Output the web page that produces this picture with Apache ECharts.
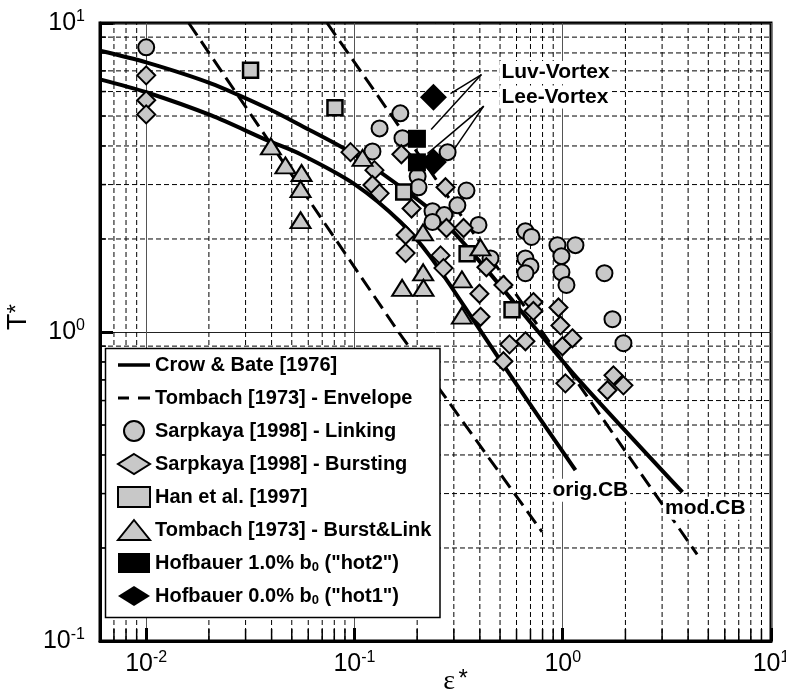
<!DOCTYPE html>
<html><head><meta charset="utf-8">
<script src="https://cdn.jsdelivr.net/npm/echarts@6/dist/echarts.min.js"></script>
<style>html,body{margin:0;padding:0;background:#fff}#c{width:786px;height:700px}</style>
</head><body><div id="c"></div>
<script>
// ---- axis ranges and grid/tick values ----
const xMin = 0.006, xMax = 10, yMin = 0.1, yMax = 10;
const minorX = [0.007,0.008,0.009,0.02,0.03,0.04,0.05,0.06,0.07,0.08,0.09,0.2,0.3,0.4,0.5,0.6,0.7,0.8,0.9,2,3,4,5,6,7,8,9];
const minorY = [0.2,0.3,0.4,0.5,0.6,0.7,0.8,0.9,2,3,4,5,6,7,8,9];

// ---- curves ----
const crowBateOrig = [[0.006,6.57],[0.01,5.97],[0.0204,5.03],[0.0382,4.17],[0.0551,3.76],[0.1,3.01],[0.1663,2.27],[0.2317,1.75],[0.4026,1.01],[0.58,0.70],[1.151,0.357]];
const crowBateMod = [[0.006,8.13],[0.01,7.46],[0.0204,6.38],[0.0382,5.30],[0.0551,4.67],[0.0957,3.82],[0.1663,2.95],[0.2588,2.33],[0.4026,1.68],[0.756,1.01],[1.176,0.708],[3.756,0.303]];
const tombachEnvLeft = [[0.016,10],[0.1627,1],[0.796,0.2253]];
const tombachEnvRight = [[0.0739,10],[4.418,0.1908]];

// ---- scatter data ----
const sarpkayaLinking = [[0.01,8.34],[0.166,5.10],[0.132,4.56],[0.170,4.24],[0.122,3.84],[0.280,3.82],[0.201,3.19],[0.203,2.94],[0.345,2.87],[0.312,2.57],[0.237,2.46],[0.270,2.39],[0.237,2.27],[0.394,2.22],[0.662,2.12],[0.708,2.03],[0.943,1.91],[1.151,1.91],[0.450,1.73],[0.662,1.73],[0.700,1.63],[0.662,1.55],[0.986,1.76],[0.986,1.56],[1.042,1.42],[1.586,1.55],[1.733,1.10],[1.956,0.92]];
const sarpkayaBursting = [[0.01,6.77],[0.01,5.62],[0.01,5.06],[0.0957,3.82],[0.1247,3.34],[0.122,2.99],[0.132,2.81],[0.168,3.76],[0.2735,2.94],[0.188,2.51],[0.176,2.06],[0.176,1.80],[0.2765,2.17],[0.334,2.17],[0.259,1.77],[0.2675,1.61],[0.430,1.62],[0.519,1.42],[0.398,1.33],[0.403,1.12],[0.723,1.25],[0.723,1.17],[0.954,1.20],[0.975,1.05],[0.555,0.912],[0.662,0.933],[0.519,0.804],[0.997,0.899],[1.113,0.954],[1.03,0.682],[1.752,0.724],[1.639,0.648],[1.956,0.672]];
const hanEtAl = [[0.0317,7.03],[0.0806,5.32],[0.1724,2.84],[0.3475,1.79],[0.571,1.18]];
const tombachBurstLink = [[0.0397,3.99],[0.0466,3.46],[0.0557,3.27],[0.0551,2.90],[0.0551,2.30],[0.1093,3.66],[0.2133,2.10],[0.2137,1.56],[0.1694,1.39],[0.2145,1.39],[0.328,1.48],[0.328,1.13],[0.4026,1.88]];
const hofbauerHot2 = [[0.1995,4.22],[0.1995,3.54]];
const hofbauerHot1 = [[0.2394,5.75],[0.2394,3.55]];

// ---- annotations ----
const annotationTexts = ['Luv-Vortex','Lee-Vortex','orig.CB','mod.CB'];
const annotationX = [0.4967,0.4967,0.873,3.034];
const annotationY = [6.91,5.76,0.3074,0.2689];
const leaderLines = [
  [[0.4071,6.81],[0.289,5.91]],
  [[0.4071,6.81],[0.2334,4.52]],
  [[0.4175,5.38],[0.2241,3.78]],
  [[0.4175,5.38],[0.2836,3.68]]
];

const names = {
  cb: 'Crow & Bate [1976]',
  te: 'Tombach [1973] - Envelope',
  sl: 'Sarpkaya [1998] - Linking',
  sb: 'Sarpkaya [1998] - Bursting',
  han: 'Han et al. [1997]',
  tbl: 'Tombach [1973] - Burst&Link',
  h2: 'Hofbauer 1.0% b0 ("hot2")',
  h1: 'Hofbauer 0.0% b0 ("hot1")'
};

const FONT = '"Liberation Sans", Arial, Helvetica, sans-serif';
const grayFill = '#c8c8c8';

function powLabel(v) {
  const e = Math.log10(v);
  if (Math.abs(e - Math.round(e)) > 1e-6) return '';
  return '{b|10}{s|' + Math.round(e) + '}';
}
const labelRich = {
  b: {fontSize: 25, fontFamily: FONT, color: '#000', lineHeight: 28},
  s: {fontSize: 16, fontFamily: FONT, color: '#000', verticalAlign: 'top', lineHeight: 16}
};

const chart = echarts.init(document.getElementById('c'), null, {renderer: 'canvas'});

const gridLineStyle = {stroke: '#000', lineWidth: 1, lineDash: [5, 3]};

const option = {
  animation: false,
  backgroundColor: '#fff',
  grid: {left: 100, right: 15, top: 23, bottom: 59, containLabel: false, outerBoundsMode: 'none',
    show: true, borderColor: '#000', borderWidth: 3, backgroundColor: 'transparent'},
  xAxis: {
    type: 'log', logBase: 10, min: xMin, max: xMax,
    axisLine: {show: true, lineStyle: {color: '#000', width: 3}},
    axisTick: {show: true, inside: true, length: 13, lineStyle: {color: '#000', width: 3}},
    splitLine: {show: true, lineStyle: {color: '#555', width: 1}},
    axisLabel: {formatter: powLabel, rich: labelRich, margin: 9, showMinLabel: true, showMaxLabel: true, hideOverlap: false},
    name: '{e|ε} {s|*}', nameLocation: 'middle', nameGap: 26, nameMoveOverlap: false,
    nameTextStyle: {padding: [0, 0, 0, 40], rich: {
      e: {fontSize: 28, fontFamily: '"Liberation Serif", "DejaVu Serif", serif', color: '#000', lineHeight: 30},
      s: {fontSize: 24, fontFamily: FONT, color: '#000', verticalAlign: 'top', lineHeight: 20}
    }}
  },
  yAxis: {
    type: 'log', logBase: 10, min: yMin, max: yMax,
    axisLine: {show: true, lineStyle: {color: '#000', width: 3}},
    axisTick: {show: true, inside: true, length: 13, lineStyle: {color: '#000', width: 3}},
    splitLine: {show: true, lineStyle: {color: '#222', width: 1}},
    axisLabel: {formatter: powLabel, rich: labelRich, margin: 15, hideOverlap: false},
    name: '{t|T}{s|*}', nameLocation: 'middle', nameGap: 67, nameRotate: 90, nameMoveOverlap: false,
    nameTextStyle: {padding: [0, 0, 0, 30], rich: {
      t: {fontSize: 27, fontFamily: FONT, color: '#000', lineHeight: 28},
      s: {fontSize: 24, fontFamily: FONT, color: '#000', verticalAlign: 'top', lineHeight: 18}
    }}
  },
  legend: {
    orient: 'vertical', left: 117, top: 354, z: 12,
    itemWidth: 32, itemHeight: 20, itemGap: 11, padding: 0,
    selectedMode: false,
    data: [
      {name: names.cb, icon: 'path://M0,0H32V3.5H0Z'},
      {name: names.te, icon: 'path://M0,0H11V3H0Z M20,0H32V3H20Z'},
      names.sl, names.sb, names.han, names.tbl, names.h2, names.h1],
    formatter: function (n) { return n.replace(' b0 ', ' b{sub|0} '); },
    textStyle: {fontFamily: FONT, fontWeight: 'bold', fontSize: 20, color: '#000', lineHeight: 22,
      rich: {sub: {fontFamily: FONT, fontWeight: 'bold', fontSize: 13, color: '#000', verticalAlign: 'bottom', lineHeight: 12}}}
  },
  graphic: [{
    type: 'rect', z: 11, silent: true,
    shape: {x: 105.5, y: 348.5, width: 334.5, height: 269},
    style: {fill: '#fff', stroke: '#000', lineWidth: 1.5}
  }],
  series: [
    // minor grid lines (dashed) and minor ticks, drawn through the axes
    {
      type: 'custom', z: 1, silent: true,
      data: minorX.map(v => [v, yMin]),
      renderItem: function (params, api) {
        const p0 = api.coord([api.value(0), yMin]);
        const p1 = api.coord([api.value(0), yMax]);
        return {type: 'group', children: [
          {type: 'line', shape: {x1: p0[0], y1: p0[1], x2: p1[0], y2: p1[1]}, style: gridLineStyle},
          {type: 'line', shape: {x1: p0[0], y1: p0[1], x2: p0[0], y2: p0[1] - 12}, style: {stroke: '#000', lineWidth: 1.5}}
        ]};
      }
    },
    {
      type: 'custom', z: 1, silent: true,
      data: minorY.map(v => [xMin, v]),
      renderItem: function (params, api) {
        const p0 = api.coord([xMin, api.value(1)]);
        const p1 = api.coord([xMax, api.value(1)]);
        return {type: 'group', children: [
          {type: 'line', shape: {x1: p0[0], y1: p0[1], x2: p1[0], y2: p1[1]}, style: gridLineStyle},
          {type: 'line', shape: {x1: p0[0], y1: p0[1], x2: p0[0] + 6, y2: p0[1]}, style: {stroke: '#000', lineWidth: 1.5}}
        ]};
      }
    },
    {name: names.cb, type: 'line', z: 2, data: crowBateOrig, smooth: 0.3, symbol: 'none', lineStyle: {color: '#000', width: 4}, itemStyle: {color: '#000'}},
    {name: names.cb, type: 'line', z: 2, data: crowBateMod, smooth: 0.3, symbol: 'none', lineStyle: {color: '#000', width: 4}, itemStyle: {color: '#000'}},
    {name: names.te, type: 'line', z: 2, data: tombachEnvLeft, symbol: 'none', lineStyle: {color: '#000', width: 3, type: [15, 7]}, itemStyle: {color: '#000'}},
    {name: names.te, type: 'line', z: 2, data: tombachEnvRight, symbol: 'none', lineStyle: {color: '#000', width: 3, type: [15, 7]}, itemStyle: {color: '#000'}},
    {type: 'lines', coordinateSystem: 'cartesian2d', z: 2, silent: true,
      data: leaderLines.map(c => ({coords: c})),
      lineStyle: {color: '#000', width: 1.5, opacity: 1}},
    {name: names.sl, type: 'scatter', z: 3, data: sarpkayaLinking, symbol: 'circle', symbolSize: 16,
      itemStyle: {color: grayFill, borderColor: '#000', borderWidth: 2, opacity: 1}},
    {name: names.sb, type: 'scatter', z: 3, data: sarpkayaBursting, symbol: 'diamond', symbolSize: 18,
      itemStyle: {color: grayFill, borderColor: '#000', borderWidth: 2, opacity: 1}},
    {name: names.han, type: 'scatter', z: 3, data: hanEtAl, symbol: 'rect', symbolSize: 15,
      itemStyle: {color: grayFill, borderColor: '#000', borderWidth: 2.5, opacity: 1}},
    {name: names.tbl, type: 'scatter', z: 3, data: tombachBurstLink, symbol: 'triangle', symbolSize: [20, 16],
      itemStyle: {color: grayFill, borderColor: '#000', borderWidth: 2, opacity: 1}},
    {name: names.h2, type: 'scatter', z: 4, data: hofbauerHot2, symbol: 'rect', symbolSize: 18,
      itemStyle: {color: '#000', borderColor: '#000', borderWidth: 0, opacity: 1}},
    {name: names.h1, type: 'scatter', z: 4, data: hofbauerHot1, symbol: 'diamond', symbolSize: 27,
      itemStyle: {color: '#000', borderColor: '#000', borderWidth: 0, opacity: 1}},
    {type: 'scatter', z: 5, silent: true, symbol: 'circle', symbolSize: 0,
      data: annotationTexts.map((t, i) => ({name: t, value: [annotationX[i], annotationY[i]]})),
      itemStyle: {color: '#000', opacity: 1},
      label: {show: true, position: 'right', distance: 0, formatter: '{b}', color: '#000', opacity: 1,
        fontFamily: FONT, fontWeight: 'bold', fontSize: 21, backgroundColor: '#fff', padding: [1, 2]}}
  ]
};
chart.setOption(option);
</script>
</body></html>
